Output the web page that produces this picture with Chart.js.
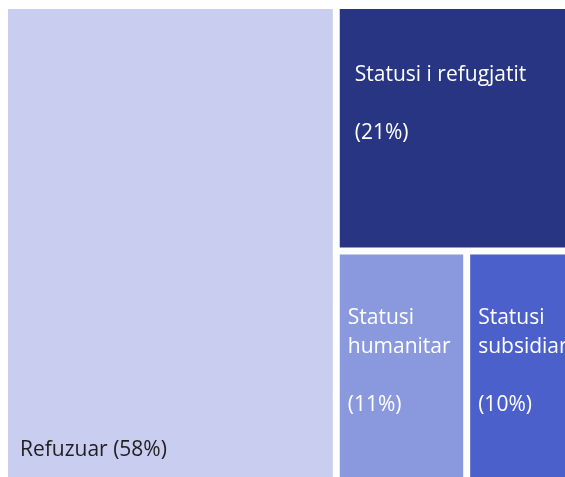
<!DOCTYPE html>
<html>
<head>
<meta charset="utf-8">
<script src="https://cdn.jsdelivr.net/npm/chart.js@4"></script>
<style>
    html, body { margin: 0; padding: 0; background: #ffffff; overflow: hidden; }
    #wrap { position: absolute; left: 0; top: 0; width: 580px; height: 500px; }
</style>
</head>
<body>
<div id="wrap"><canvas id="treeChart" width="580" height="500"></canvas></div>
<script>
const categories = ["Refuzuar", "Statusi i refugjatit", "Statusi humanitar", "Statusi subsidiar"];
const values = [58, 21, 11.4, 9.6];
const colors = ["#C9CDEF", "#283582", "#8A99DD", "#4C60CB"];
const textColors = ["#1F1F1F", "#FFFFFF", "#FFFFFF", "#FFFFFF"];

// treemap layout in data units (0..100 on both axes)
function layoutRects(vals) {
    const total = vals.reduce((a, b) => a + b, 0);
    const xSplit = 100 * vals[0] / total;
    const rest = vals[1] + vals[2] + vals[3];
    const ySplit = 100 * vals[1] / rest;
    const xSplit2 = xSplit + (100 - xSplit) * vals[2] / (vals[2] + vals[3]);
    return [
        { x0: 0, x1: xSplit, y0: 0, y1: 100 },
        { x0: xSplit, x1: 100, y0: 0, y1: ySplit },
        { x0: xSplit, x1: xSplit2, y0: ySplit, y1: 100 },
        { x0: xSplit2, x1: 100, y0: ySplit, y1: 100 }
    ];
}

function wrapText(ctx, text, maxWidth) {
    const words = text.split(" ");
    const lines = [];
    let line = "";
    words.forEach(w => {
        const test = line ? line + " " + w : w;
        if (ctx.measureText(test).width > maxWidth && line) {
            lines.push(line);
            line = w;
        } else {
            line = test;
        }
    });
    if (line) lines.push(line);
    return lines;
}

const treemapPlugin = {
    id: "treemapCells",
    afterDatasetsDraw(chart) {
        const ctx = chart.ctx;
        const xs = chart.scales.x, ys = chart.scales.y;
        const gap = 3.5;
        const total = values.reduce((a, b) => a + b, 0);
        const rects = layoutRects(values);
        ctx.save();
        rects.forEach((r, i) => {
            const left = xs.getPixelForValue(r.x0) + gap;
            const right = xs.getPixelForValue(r.x1) - gap;
            const top = ys.getPixelForValue(r.y0) + gap;
            const bottom = ys.getPixelForValue(r.y1) - gap;
            ctx.fillStyle = colors[i];
            ctx.fillRect(left, top, right - left, bottom - top);

            const pct = "(" + Math.round(values[i] / total * 100) + "%)";
            ctx.fillStyle = textColors[i];
            ctx.font = "21px 'Open Sans', sans-serif";
            ctx.textBaseline = "alphabetic";
            ctx.textAlign = "left";
            if (i === 0) {
                ctx.fillText(categories[i] + " " + pct, left + 12, bottom - 37);
                return;
            }
            const padX = i === 1 ? 15 : 8;
            const lines = wrapText(ctx, categories[i], right - left - padX - 4);
            lines.push("");
            lines.push(pct);
            let y = top + (i === 1 ? 72 : 69);
            lines.forEach(l => {
                if (l) ctx.fillText(l, left + padX, y);
                y += 29;
            });
        });
        ctx.restore();
    }
};

new Chart(document.getElementById("treeChart").getContext("2d"), {
    type: "scatter",
    data: { datasets: [{ data: [], pointRadius: 0 }] },
    options: {
        responsive: false,
        animation: false,
        layout: { padding: { left: 4.5, top: 5.5, right: 3.5, bottom: 3.5 } },
        scales: {
            x: { type: "linear", min: 0, max: 100, display: false },
            y: { type: "linear", min: 0, max: 100, reverse: true, display: false }
        },
        plugins: {
            legend: { display: false },
            tooltip: { enabled: false }
        }
    },
    plugins: [treemapPlugin]
});
</script>
</body>
</html>
